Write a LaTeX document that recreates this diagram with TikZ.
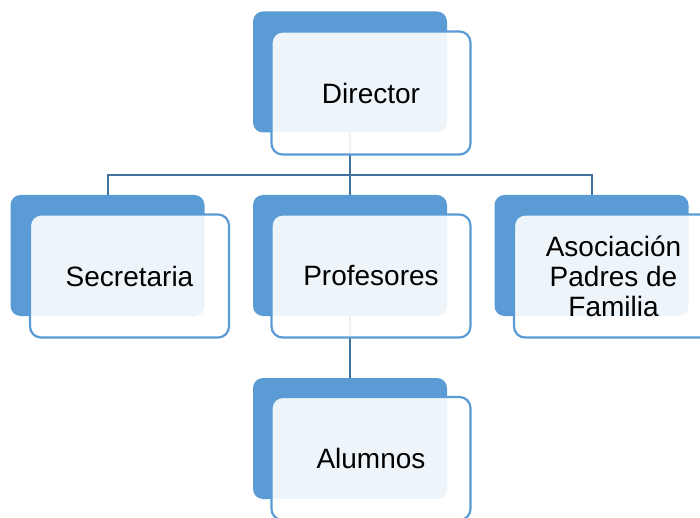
\documentclass[tikz,border=0pt]{standalone}
\usepackage{fontspec}
\setmainfont{Liberation Sans}
\usepackage{tikz}
\usetikzlibrary{backgrounds}
\definecolor{boxblue}{HTML}{5B9BD5}
\definecolor{linkblue}{HTML}{41719C}
\tikzset{
  backbox/.style={fill=boxblue, draw=none, rounded corners=10pt,
    minimum width=194pt, minimum height=121pt, inner sep=0pt},
  frontbox/.style={fill=white, fill opacity=0.9, text opacity=1,
    draw=boxblue, line width=2.2pt, rounded corners=11pt,
    minimum width=199pt, minimum height=123pt, inner sep=0pt,
    align=center, font=\fontsize{28}{30}\selectfont},
  link/.style={draw=linkblue, line width=2pt}
}

\begin{document}
\begin{tikzpicture}[x=1pt, y=-1pt]
\useasboundingbox (0,0) rectangle (700,518);
\clip (0,0) rectangle (700,518);

\node[backbox] (dirB) at (350,72) {};
\node[frontbox] (dir) at (371,93) {Director};

\node[backbox] (secB) at (107.5,255.5) {};
\node[frontbox] (sec) at (129.5,276) {Secretaria};

\node[backbox] (profB) at (350,255.5) {};
\node[frontbox] (prof) at (371,276) {Profesores};

\node[backbox] (apfB) at (591.5,255.5) {};
\node[frontbox] (apf) at (613.5,276) {Asociación\\Padres de\\Familia};

\node[backbox] (aluB) at (350,438.5) {};
\node[frontbox] (alu) at (371,458.5) {Alumnos};

\coordinate (bus) at (350,175);

\begin{pgfonlayer}{background}
\draw[link] (dirB.south) -- (bus) -| (secB.north);
\draw[link] (bus) -- (profB.north);
\draw[link] (bus) -| (apfB.north);
\draw[link] (profB.south) -- (aluB.north);
\end{pgfonlayer}
\end{tikzpicture}
\end{document}
